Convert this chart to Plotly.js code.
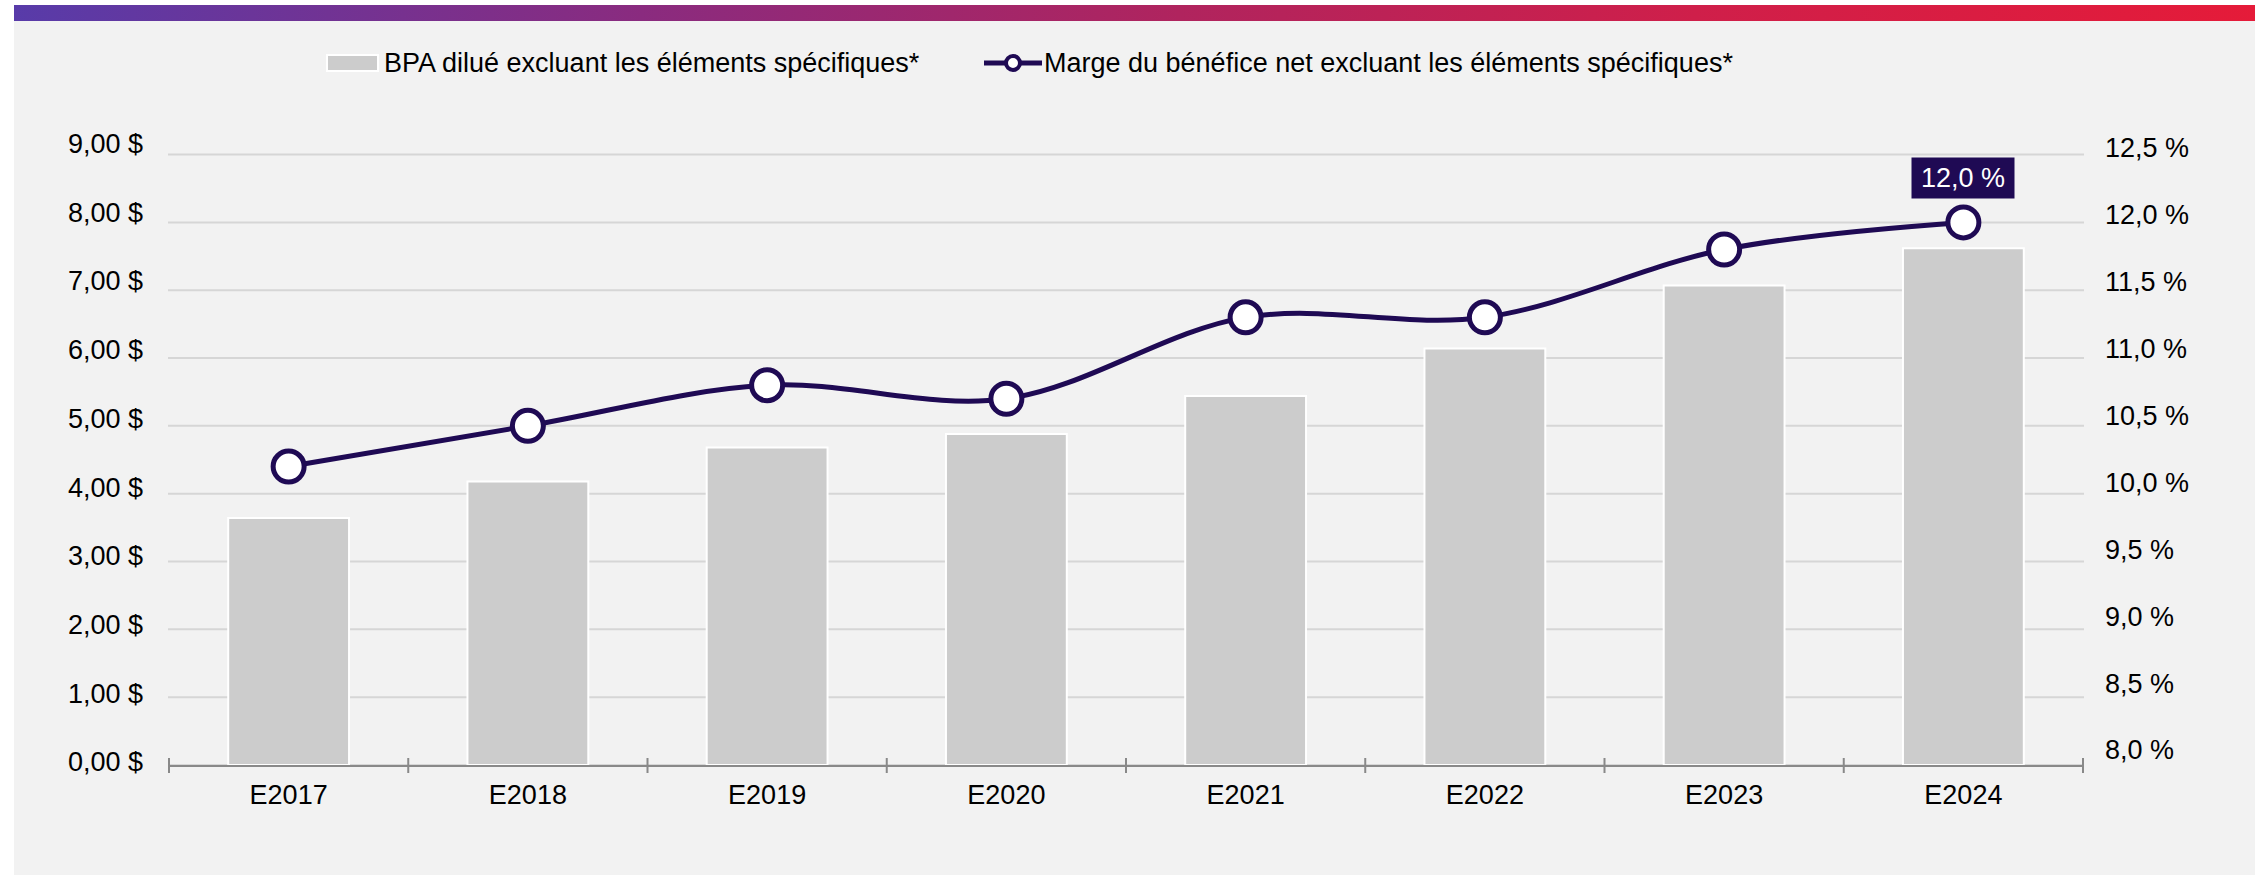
<!DOCTYPE html>
<html>
<head>
<meta charset="utf-8">
<script src="https://cdn.plot.ly/plotly-3.0.1.min.js"></script>
<style>
  html, body { margin: 0; padding: 0; background: #ffffff; width: 2259px; height: 875px; overflow: hidden; }
  #panel { position: absolute; left: 14px; top: 21px; width: 2241px; height: 854px; background: #f2f2f2; }
  #band { position: absolute; left: 14px; top: 5px; width: 2241px; height: 16px;
          background: linear-gradient(90deg, #583ba9 0%, #8a2b7f 28%, #b0245e 52%, #cf1f4a 75%, #e51b39 100%); }
  #chart { position: absolute; left: 0; top: 0; width: 2259px; height: 875px; }
</style>
</head>
<body>
<div id="panel"></div>
<div id="band"></div>
<div id="chart"></div>
<script>
// ---- Data ----
const categories = ['E2017', 'E2018', 'E2019', 'E2020', 'E2021', 'E2022', 'E2023', 'E2024'];
const bpaDilue = [3.64, 4.18, 4.68, 4.88, 5.44, 6.14, 7.07, 7.62];
const margeNette = [10.2, 10.5, 10.8, 10.7, 11.3, 11.3, 11.8, 12.0];
const seriesNames = [
  'BPA dilué excluant les éléments spécifiques*',
  'Marge du bénéfice net excluant les éléments spécifiques*'
];
const leftTickValues = [0, 1, 2, 3, 4, 5, 6, 7, 8, 9];
const rightTickValues = [8.0, 8.5, 9.0, 9.5, 10.0, 10.5, 11.0, 11.5, 12.0, 12.5];
const leftTickText = leftTickValues.map(v => v.toFixed(2).replace('.', ',') + ' $');
const rightTickText = rightTickValues.map(v => v.toFixed(1).replace('.', ',') + ' %');

// ---- Styling ----
const W = 2259, H = 875;
const LEFT_MAX = 9.2;                      // a little headroom above the 9,00 $ gridline
const RIGHT_MIN = 8, RIGHT_MAX = 8 + LEFT_MAX / 2;
const M = { l: 168, r: 175, t: 141, b: 110 };
const plotW = W - M.l - M.r, plotH = H - M.t - M.b;
const pxPerLeft = plotH / LEFT_MAX, pxPerRight = plotH / (RIGHT_MAX - RIGHT_MIN);
const px = x => (x - M.l) / plotW;          // pixel -> paper x
const py = y => (H - M.b - y) / plotH;      // pixel -> paper y
const FONT = 'Liberation Sans, Arial, Helvetica, sans-serif';
const DARK = '#1f0a54';
const BAR = '#cccccc';
const AXIS = '#898989';
const GRID = '#d6d6d6';
// labels sit slightly above their gridlines (pixels, bottom label -> top label)
const LEFT_LIFT = [3, 11], RIGHT_LIFT = [15, 7];
const lift = (range, t) => range[0] + (range[1] - range[0]) * t;

const traces = [
  {
    type: 'bar', x: categories, y: bpaDilue, name: seriesNames[0],
    marker: { color: BAR, line: { color: '#ffffff', width: 2 } },
    yaxis: 'y', showlegend: false
  },
  {
    type: 'scatter', mode: 'lines+markers', x: categories, y: margeNette, name: seriesNames[1],
    line: { color: DARK, width: 5, shape: 'spline', smoothing: 1 },
    marker: { size: 31, color: '#ffffff', line: { color: DARK, width: 5 } },
    yaxis: 'y2', showlegend: false
  }
];

const shapes = [];
// horizontal gridlines at the left-axis values
leftTickValues.forEach(v => {
  shapes.push({ type: 'line', xref: 'paper', yref: 'y', x0: 0, x1: 1, y0: v, y1: v,
    line: { color: GRID, width: 2 }, layer: 'below' });
});
// tick marks crossing the x axis at category boundaries
for (let i = 0; i <= categories.length; i++) {
  shapes.push({
    type: 'line', xref: 'x', yref: 'paper', x0: i - 0.5, x1: i - 0.5,
    y0: -8 / plotH, y1: 7 / plotH, line: { color: AXIS, width: 2 }, layer: 'above'
  });
}
// custom legend
shapes.push({ type: 'rect', xref: 'paper', yref: 'paper',
  x0: px(327), x1: px(378), y0: py(71), y1: py(55),
  fillcolor: BAR, line: { color: '#ffffff', width: 2 } });
shapes.push({ type: 'line', xref: 'paper', yref: 'paper',
  x0: px(984), x1: px(1042), y0: py(63), y1: py(63), line: { color: DARK, width: 5 } });
shapes.push({ type: 'circle', xref: 'paper', yref: 'paper',
  x0: px(1006), x1: px(1020), y0: py(70), y1: py(56),
  fillcolor: '#ffffff', line: { color: DARK, width: 4 } });

const last = categories.length - 1;
const annotations = [
  { xref: 'paper', yref: 'paper', x: px(382), y: py(63), xanchor: 'left', yanchor: 'middle',
    text: seriesNames[0], showarrow: false, font: { family: FONT, size: 27, color: '#000000' } },
  { xref: 'paper', yref: 'paper', x: px(1042), y: py(63), xanchor: 'left', yanchor: 'middle',
    text: seriesNames[1], showarrow: false, font: { family: FONT, size: 27, color: '#000000' } },
  { xref: 'x', yref: 'y2', x: categories[last], y: margeNette[last], yshift: 44,
    text: margeNette[last].toFixed(1).replace('.', ',') + ' %', showarrow: false,
    bgcolor: DARK, width: 100, height: 38, borderpad: 1,
    font: { family: FONT, size: 27, color: '#ffffff' } }
];

const nL = leftTickValues.length - 1, nR = rightTickValues.length - 1;
const layout = {
  width: W, height: H,
  margin: M,
  paper_bgcolor: 'rgba(0,0,0,0)', plot_bgcolor: 'rgba(0,0,0,0)',
  font: { family: FONT, size: 27, color: '#000000' },
  showlegend: false,
  bargap: 0.495,
  hovermode: false,
  xaxis: {
    type: 'category', showline: true, linecolor: AXIS, linewidth: 2,
    ticks: '', showgrid: false, zeroline: false,
    tickfont: { family: FONT, size: 27, color: '#000000' },
    ticklabelstandoff: 5
  },
  yaxis: {
    range: [0, LEFT_MAX], tickmode: 'array',
    tickvals: leftTickValues.map((v, i) => v + lift(LEFT_LIFT, i / nL) / pxPerLeft),
    ticktext: leftTickText,
    showgrid: false, zeroline: false, showline: false, ticks: '',
    tickfont: { family: FONT, size: 27, color: '#000000' },
    ticklabelstandoff: 24
  },
  yaxis2: {
    overlaying: 'y', side: 'right', range: [RIGHT_MIN, RIGHT_MAX], tickmode: 'array',
    tickvals: rightTickValues.map((v, i) => v + lift(RIGHT_LIFT, i / nR) / pxPerRight),
    ticktext: rightTickText,
    showgrid: false, zeroline: false, showline: false, ticks: '',
    tickfont: { family: FONT, size: 27, color: '#000000' },
    ticklabelstandoff: 20
  },
  shapes: shapes,
  annotations: annotations
};

Plotly.newPlot('chart', traces, layout, { staticPlot: true, displayModeBar: false });
</script>
</body>
</html>
